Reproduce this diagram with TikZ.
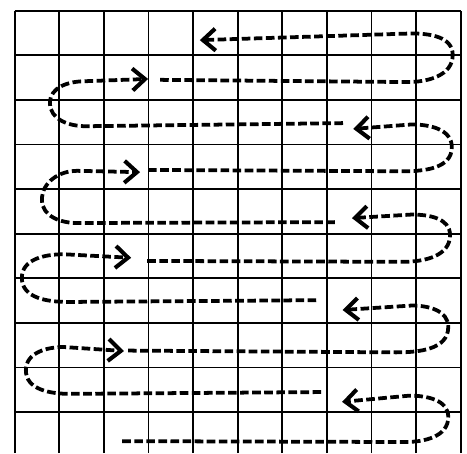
\documentclass[tikz,border=0pt]{standalone}
\usetikzlibrary{arrows.meta}
\tikzset{
  cellline/.style={line width=1.1pt, black},
  snake/.style={line width=2.4pt, dash pattern=on 5.5pt off 2.2pt,
                -{Straight Barb[length=8pt,width=14pt,line width=2.6pt]}},
}
\begin{document}
\begin{tikzpicture}[x=1cm, y=1cm]
\useasboundingbox (-0.33,0.083) rectangle (10.14,10.24);

% the squares
\draw[cellline] (0,0.083) grid (10,10);

% start and end of each stroke
\coordinate (s1) at (2.41,0.35);  \coordinate (e1) at (7.34,1.23);
\coordinate (s2) at (6.87,1.45);  \coordinate (e2) at (2.45,2.37);
\coordinate (s3) at (2.54,2.38);  \coordinate (e3) at (7.35,3.29);
\coordinate (s4) at (6.76,3.51);  \coordinate (e4) at (2.61,4.46);
\coordinate (s5) at (2.97,4.39);  \coordinate (e5) at (7.56,5.35);
\coordinate (s6) at (7.18,5.26);  \coordinate (e6) at (2.81,6.38);
\coordinate (s7) at (2.99,6.43);  \coordinate (e7) at (7.59,7.35);
\coordinate (s8) at (7.36,7.48);  \coordinate (e8) at (2.99,8.47);
\coordinate (s9) at (3.26,8.45);  \coordinate (e9) at (4.15,9.34);

% turning right
\draw[snake] (s1) -- (8.75,0.33) to[out=0,in=-90] (9.72,0.89) to[out=90,in=0] (8.85,1.37) -- (e1);
\draw[snake] (s3) -- (8.55,2.34) to[out=0,in=-90] (9.72,2.91) to[out=90,in=0] (8.9,3.39) -- (e3);
\draw[snake] (s5) -- (8.7,4.37) to[out=0,in=-90] (9.76,4.97) to[out=90,in=0] (8.9,5.43) -- (e5);
\draw[snake] (s7) -- (8.7,6.40) to[out=0,in=-90] (9.8,6.94) to[out=90,in=0] (8.9,7.45) -- (e7);
\draw[snake] (s9) -- (8.8,8.40) to[out=0,in=-90] (9.82,9.01) to[out=90,in=0] (8.9,9.49) -- (e9);

% turning left
\draw[snake] (s2) -- (1.24,1.41) to[out=180,in=-90] (0.25,1.94) to[out=90,in=180] (1.1,2.46) -- (e2);
\draw[snake] (s4) -- (1.2,3.47) to[out=180,in=-90] (0.16,4.01) to[out=90,in=180] (1.1,4.54) -- (e4);
\draw[snake] (s6) -- (1.4,5.24) to[out=180,in=-90] (0.61,5.76) to[out=90,in=180] (1.4,6.41) -- (e6);
\draw[snake] (s8) -- (1.6,7.41) to[out=180,in=-90] (0.79,7.93) to[out=90,in=180] (1.6,8.42) -- (e8);
\end{tikzpicture}
\end{document}
